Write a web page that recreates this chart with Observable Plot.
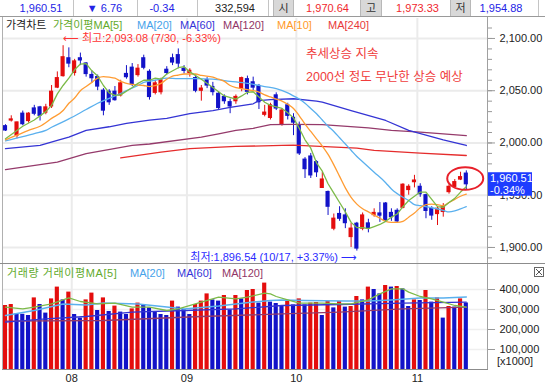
<!DOCTYPE html>
<html><head><meta charset="utf-8">
<script src="https://cdn.jsdelivr.net/npm/d3@7"></script>
<script src="https://cdn.jsdelivr.net/npm/@observablehq/plot@0.6"></script>
<style>
html,body{margin:0;padding:0;background:#fff;}
#wrap{position:relative;width:545px;height:387px;overflow:hidden;background:#fff;font-family:"Liberation Sans","Noto Sans CJK KR","DejaVu Sans",sans-serif;font-size:11px;}
.abs{position:absolute;white-space:nowrap;line-height:1;}
.ln{position:absolute;background:#a8a8a8;}
.plot{position:absolute;left:0;}
</style></head>
<body><div id="wrap"></div>
<script>
// ---------------- DATA ----------------
const openP = [2016,2021.5,2007,2028,2021,2033,2034,2029,2035,2053,
2064,2081,2067,2081,2076,2065,2063,2050,2049,2049,
2045.5,2066,2072,2065,2081,2068,2048,2048.6,2070,2081,
2084,2071,2067,2062,2050,2060,2053.5,2047,2044,2039,
2040,2052,2061,2058,2054.5,2027,2024,2045.5,2018,2036,
2024,2017,1984,1987,1981.6,1957,1953,1918,1932,1930.6,
1910,1922.7,1918,1923,1931,1932.5,1942,1933,1935,1938,
1955,1962.5,1958,1950,1937,1932,1934,1953,1958,1965,
1970.64];
const highP = [2017.5,2026,2020,2030.5,2029,2036,2035,2037,2055,2068,
2093.08,2091,2080,2086,2077,2069,2065,2052,2051,2054,
2060,2074,2076,2075,2084,2070,2060,2062,2073,2085,
2090,2074,2071,2065,2055,2062.5,2058,2049,2046,2042,
2046,2063,2064,2063,2056,2036,2038,2048,2033,2038,
2028,2020,1986,1990,1983,1972,1954,1932,1939,1937,
1923,1924,1933,1927,1937,1943,1943,1937,1937,1961,
1960,1969,1961,1951,1939,1939,1942,1960,1965,1972,
1973.33];
const lowP = [2011,2020,2004,2016.5,2019,2026,2021,2027,2033,2052,
2063,2072,2064,2074,2063,2057,2050,2026,2036,2040,
2044,2061,2054,2063,2070,2041,2046,2046,2065,2074,
2071,2066,2063,2048,2040,2052,2045,2032,2037,2028,
2037,2049,2046,2050,2032,2025,2022,2031,2016,2022,
2007,1988,1966,1966,1967,1957,1930.6,1916,1925,1918,
1900,1896.54,1916,1914,1929,1924,1924,1925,1923,1937,
1950,1957,1948,1927.5,1926,1921,1929,1951,1957,1964,
1954.88];
const closeP = [2012,2022.5,2019.6,2018,2028,2028,2026,2034,2049,2062,
2082,2076,2078,2079,2066,2062,2054,2031,2039,2041,
2057,2063,2056,2071,2072,2044,2057,2060,2067,2077,
2076,2069,2069,2050,2052,2055,2048.7,2033.5,2040,2035,
2044,2062,2049,2053,2039,2029,2036,2033,2031,2026,
2019.5,1990,1975,1969,1972,1965,1939,1927.5,1927.5,1923.3,
1918,1899,1930.6,1918,1933,1930.5,1926,1929,1925,1960,
1958,1964,1951,1935,1930.6,1937,1938.6,1958,1962.5,1967.27,
1960.51];
// volume, thousands of shares
const volume = [320,325,278,276,270,358,325,282,353,412,
348,387,275,257,348,382,295,358,290,317,
287,275,303,332,325,308,287,275,270,342,
312,300,275,325,342,378,348,342,370,298,
370,353,395,400,332,432,337,330,318,340,
323,353,323,332,335,270,340,308,340,312,
315,365,348,412,400,378,420,412,415,403,
315,348,345,395,337,358,257,315,312,353,
332.594];
// price moving averages: [candle index, value]
const ma5 = [[0,2004],[3,2016],[5,2022],[7,2030],[8,2036],[9,2047],[10,2055],[11,2062],[12,2070],[13,2075.5],[14,2076],[15,2069],[16,2064],[17,2055],[18,2048],[19,2045.5],[20,2046],[22,2053],[23,2057],[24,2060],[25,2060],[26,2062],[27,2061],[28,2066],[30,2072],[31,2073],[32,2068],[34,2061],[36,2053],[37,2049],[38,2045],[40,2042],[41,2045],[42,2048.5],[43,2049],[44,2044],[45,2039],[46,2036],[47,2034.5],[48,2033],[49,2029],[50,2024],[51,2014],[52,2003],[53,1995],[54,1981],[55,1973],[56,1961],[57,1952],[58,1943],[59,1934],[60,1924],[61,1919],[62,1919],[63,1918],[64,1920],[65,1922],[66,1925],[67,1929],[68,1932],[69,1939],[70,1945],[71,1949],[72,1953],[73,1953],[74,1946],[75,1939],[76,1938.5],[77,1943],[78,1947],[79,1953],[80,1958]];
const ma10 = [[0,2003],[2,2007.5],[4,2012],[6,2016],[8,2023.5],[10,2031],[11,2038],[12,2043],[13,2050],[14,2054],[15,2058],[16,2062],[17,2063.5],[18,2063],[19,2062],[20,2059],[22,2056],[24,2055],[25,2054],[27,2057],[28,2061],[29,2064],[30,2065],[31,2066],[33,2066],[34,2064.6],[36,2063],[37,2061],[38,2059],[39,2055],[40,2053],[41,2052],[42,2051],[43,2050],[44,2048.7],[45,2046],[46,2044],[47,2042],[48,2040],[49,2037],[50,2033],[51,2026],[52,2018],[53,2011],[54,2004],[55,1997],[56,1989],[57,1979],[58,1968],[59,1957],[60,1948],[61,1941.5],[62,1937],[63,1934],[64,1931],[65,1928],[66,1925],[67,1924],[68,1924],[69,1925],[70,1929],[71,1933],[72,1938],[73,1941],[74,1941.5],[75,1941],[76,1940],[77,1943],[78,1946],[79,1949],[80,1951]];
const ma20 = [[0,2002],[3,2006],[5,2009],[7,2012],[8,2015],[11,2023],[14,2032],[16,2038],[19,2045],[21,2050],[23,2055],[24,2058],[26,2060],[28,2062],[30,2061.5],[33,2061.5],[36,2061],[39,2059],[42,2057],[45,2054],[47,2052],[49,2048],[50,2045],[51,2042],[52,2038],[53,2033],[54,2028],[55,2022],[56,2016],[57,2011],[58,2005],[59,1999],[60,1993],[61,1987],[62,1982],[64,1972],[66,1962],[67,1956],[69,1948],[70,1945],[71,1941],[72,1940],[74,1938],[76,1935.5],[77,1934],[78,1935],[79,1937],[80,1939]];
const ma60 = [[0,1994.5],[6,1997.6],[9,2002.5],[11,2005.5],[14,2012],[18,2015.5],[21,2018.7],[25,2021.8],[28,2023.5],[32,2028],[36,2031],[39,2034],[43,2037.5],[44,2040.5],[46,2041.5],[50,2042.3],[54,2040],[55,2039],[60,2031],[66,2021.5],[70,2012],[76,2003],[80,1997.6]];
const ma120 = [[0,1974.4],[9,1981.6],[14,1989.7],[22,1997.6],[25,1999],[34,2005.5],[37,2008.8],[40,2012],[43,2014],[46,2017.5],[50,2017.7],[55,2017.5],[63,2014.5],[67,2012],[72,2010.3],[80,2007]];
const ma240 = [[20,1985.8],[27,1991.2],[32,1994.5],[40,1996.7],[48,1997.6],[50,1998],[61,1995],[64,1993],[72,1990.3],[80,1988]];
// volume moving averages: [candle index, thousands]
const vma5 = [[0,312],[3,303],[5,312],[8,328],[11,358],[13,340],[16,328],[19,332],[22,312],[25,312],[28,295],[30,303],[34,337],[37,362],[40,353],[42,362],[45,382],[46,378],[47,365],[49,348],[51,332],[55,332],[58,328],[60,328],[63,348],[65,378],[67,403],[69,403],[70,387],[72,365],[74,353],[76,337],[78,320],[80,312]];
const vma20 = [[0,270],[5,295],[10,328],[14,323],[17,332],[23,328],[28,312],[31,303],[37,317],[43,337],[46,345],[48,347],[52,345],[59,342],[63,342],[67,348],[72,357],[76,358],[80,362]];
const vma60 = [[0,237],[7,253],[14,265],[22,287],[31,295],[40,303],[48,320],[58,325],[69,332],[80,337]];
const vma120 = [[0,242],[17,245],[34,265],[48,278],[58,287],[69,303],[80,312]];
// axes
const priceTicks = [1900, 1950, 2000, 2050, 2100];
const priceMinorTicks = [1890,1900,1910,1920,1930,1940,1950,1960,1970,1980,1990,2000,2010,2020,2030,2040,2050,2060,2070,2080,2090,2100,2110];
const volTicks = [100, 200, 300, 400];
const monthPos = [11.5, 31.5, 50.5, 71.5];
const monthLabels = ["08", "09", "10", "11"];
// header / annotations
const headerChange = "▼ 6.76";
const headerPct = "-0.34";
const hiNote = {i: 10, p: 2093.08, t: "⟵ 최고:2,093.08 (7/30, -6.33%)"};
const loNote = {i: 61, p: 1896.54, t: "최저:1,896.54 (10/17, +3.37%) ⟶"};
const noteLines = ["추세상승 지속", "2000선 정도 무난한 상승 예상"];

// ---------------- STYLE ----------------
const FONT = '"Liberation Sans","Noto Sans CJK KR","DejaVu Sans",sans-serif';
const UP = "#e40d0d", DOWN = "#1212c8";
const C5 = "#7cba48", C10 = "#ff9c33", C20 = "#5ab0ee", C60 = "#3434d4", C120 = "#953a6b", C240 = "#e52c2c";
const xDomain = [-0.52, 83.68];
const fmt2 = d3.format(",.2f");

const wrap = document.getElementById("wrap");
const n = closeP.length;
const candles = d3.range(n).map(i => ({i, open: openP[i], high: highP[i], low: lowP[i], close: closeP[i]}));
const cColor = d => d.close >= d.open ? UP : DOWN;
const vols = volume.map((v, i) => ({i, v, up: i === 0 || v > volume[i - 1]}));

const pricePlot = Plot.plot({
  width: 545, height: 246, marginTop: 0, marginBottom: 0, marginLeft: 2, marginRight: 58,
  x: {domain: xDomain, axis: null, label: null},
  y: {domain: [1883.7, 2119.1], label: null},
  style: {fontFamily: FONT, fontSize: "11px", background: "transparent", overflow: "visible"},
  marks: [
    Plot.ruleY(priceTicks, {stroke: "#ebebeb", strokeWidth: 2}),
    Plot.ruleX(monthPos, {stroke: "#ebebeb", strokeWidth: 2}),
    Plot.ruleX(candles, {x: "i", y1: "low", y2: "high", stroke: cColor, strokeWidth: 1}),
    Plot.rect(candles, {x1: d => d.i - 0.36, x2: d => d.i + 0.36, y1: "open", y2: "close", fill: cColor, insetTop: -0.6, insetBottom: -0.6}),
    Plot.line(ma240, {x: d => d[0], y: d => d[1], stroke: C240, strokeWidth: 1.3}),
    Plot.line(ma120, {x: d => d[0], y: d => d[1], stroke: C120, strokeWidth: 1.3}),
    Plot.line(ma60, {x: d => d[0], y: d => d[1], stroke: C60, strokeWidth: 1.3}),
    Plot.line(ma20, {x: d => d[0], y: d => d[1], stroke: C20, strokeWidth: 1.3, curve: "monotone-x"}),
    Plot.line(ma10, {x: d => d[0], y: d => d[1], stroke: C10, strokeWidth: 1.3, curve: "monotone-x"}),
    Plot.line(ma5, {x: d => d[0], y: d => d[1], stroke: C5, strokeWidth: 1.3}),
    Plot.axisY({anchor: "right", label: null, ticks: priceMinorTicks, tickSize: 4, tickFormat: () => "", stroke: "#999"}),
    Plot.axisY({anchor: "right", label: null, ticks: priceTicks, tickSize: 7, tickPadding: 5, tickFormat: fmt2, stroke: "#999", fill: "#222", fontSize: 11}),
    Plot.text([hiNote], {x: "i", y: "p", text: "t", textAnchor: "start", dy: -7, fill: "#ff3434", fontSize: 11}),
    Plot.text([loNote], {x: "i", y: "p", text: "t", textAnchor: "end", dy: 6.5, fill: "#2a2aff", fontSize: 11})
  ]
});
pricePlot.classList.add("plot");
pricePlot.style.top = "18px";
wrap.appendChild(pricePlot);

const volPlot = Plot.plot({
  width: 545, height: 123, marginTop: 0, marginBottom: 18, marginLeft: 2, marginRight: 58,
  x: {domain: xDomain, label: null},
  y: {domain: [0, 525], label: null},
  style: {fontFamily: FONT, fontSize: "11px", background: "transparent", overflow: "visible"},
  marks: [
    Plot.ruleY(volTicks, {stroke: "#efefef", strokeWidth: 1.5}),
    Plot.ruleX(monthPos, {stroke: "#ebebeb", strokeWidth: 2}),
    Plot.rectY(vols, {x1: d => d.i - 0.36, x2: d => d.i + 0.36, y: "v", fill: d => d.up ? UP : DOWN}),
    Plot.line(vma120, {x: d => d[0], y: d => d[1], stroke: C120, strokeWidth: 1.3}),
    Plot.line(vma60, {x: d => d[0], y: d => d[1], stroke: C60, strokeWidth: 1.3}),
    Plot.line(vma20, {x: d => d[0], y: d => d[1], stroke: C20, strokeWidth: 1.5}),
    Plot.line(vma5, {x: d => d[0], y: d => d[1], stroke: C5, strokeWidth: 1.3}),
    Plot.axisY({anchor: "right", label: null, ticks: volTicks, tickSize: 7, tickPadding: 5, tickFormat: d => d3.format(",")(d * 1000), stroke: "#999", fill: "#222", fontSize: 11}),
    Plot.axisX({anchor: "bottom", label: null, ticks: monthPos, tickSize: 0, tickPadding: 5, tickFormat: d => monthLabels[monthPos.indexOf(d)], fill: "#222", fontSize: 11})
  ]
});
volPlot.classList.add("plot");
volPlot.style.top = "264px";
wrap.appendChild(volPlot);

// decorations tied to the price scales
function scaleFn(plot, name) {
  const s = plot.scale(name);
  if (s && typeof s.apply === "function") return v => s.apply(v);
  return d3.scaleLinear(s.domain, s.range);
}
const SX = scaleFn(pricePlot, "x"), SY = scaleFn(pricePlot, "y");
const psvg = d3.select(pricePlot);
psvg.append("ellipse")
  .attr("cx", SX(79.9)).attr("cy", SY(1965.5)).attr("rx", 18).attr("ry", 11.3)
  .attr("fill", "none").attr("stroke", "#e8202a").attr("stroke-width", 2);
const lastY = SY(closeP[n - 1]);
const lab = psvg.append("g").attr("text-anchor", "start");
lab.append("rect").attr("x", 488).attr("y", lastY - 11.5).attr("width", 44).attr("height", 23.5).attr("fill", "#1e3cff");
lab.append("text").attr("x", 490).attr("y", lastY - 5.5).attr("dy", "0.36em").attr("fill", "#fff").attr("text-anchor", "start")
  .attr("font-size", 11).attr("font-family", FONT).text(fmt2(closeP[n - 1]));
lab.append("text").attr("x", 490).attr("y", lastY + 6).attr("dy", "0.36em").attr("fill", "#fff").attr("text-anchor", "start")
  .attr("font-size", 11).attr("font-family", FONT).text(headerPct + "%");

// ---------------- HTML overlays ----------------
function line(x, y, w, h, c) {
  const d = document.createElement("div"); d.className = "ln";
  Object.assign(d.style, {left: x + "px", top: y + "px", width: w + "px", height: h + "px", background: c || "#a8a8a8"});
  wrap.appendChild(d); return d;
}
function text(t, x, yc, color, size, center, extra) {
  size = size || 11;
  const d = document.createElement("div"); d.className = "abs"; d.textContent = t;
  d.style.left = x + "px"; d.style.top = (yc - size * 0.5) + "px";
  d.style.fontSize = size + "px"; d.style.color = color || "#222";
  if (center) d.style.transform = "translateX(-50%)";
  if (extra) Object.assign(d.style, extra);
  wrap.appendChild(d); return d;
}
function box(x, w, label) {
  const d = document.createElement("div");
  Object.assign(d.style, {position: "absolute", left: x + "px", top: "0px", width: w + "px", height: "16px",
    background: "#d8d8d8", borderLeft: "1px solid #b8b8b8", borderRight: "1px solid #b8b8b8", boxSizing: "border-box"});
  wrap.appendChild(d);
  text(label, x + w / 2, 8, "#333", 11, true);
}
// header row
line(0, 16, 545, 1, "#9a9a9a");
[73, 137, 197, 268, 538].forEach(x => line(x, 0, 1, 16, "#c4c4c4"));
text(fmt2(closeP[n - 1]), 41, 8, "#2323e6", 11, true);
text(headerChange, 104.5, 8, "#2323e6", 11, true);
text(headerPct, 162, 8, "#2323e6", 11, true);
text(d3.format(",")(Math.round(volume[n - 1] * 1000)), 235, 8, "#222", 11, true);
box(273, 21, "시");
text(fmt2(openP[n - 1]), 327.5, 8, "#f0282e", 11, true);
box(360, 22, "고");
text(fmt2(highP[n - 1]), 417.5, 8, "#f0282e", 11, true);
box(450, 21, "저");
text(fmt2(lowP[n - 1]), 501, 8, "#2323e6", 11, true);

// frame lines
line(2, 17, 1, 353, "#b0b0b0");
line(487, 17, 1, 353, "#a0a0a0");
line(0, 263, 545, 1, "#8c8c8c");
line(2, 369, 486, 1, "#8c8c8c");

// price legend
[["가격차트", 6, "#1a1a1a"], ["가격이평MA[5]", 53, "#62aa2c"], ["MA[20]", 137, "#46a2ea"], ["MA[60]", 180, "#3535d8"],
 ["MA[120]", 223, "#913566"], ["MA[10]", 277, "#ff9a2a"], ["MA[240]", 328, "#e83a3a"]]
  .forEach(([t, x, c]) => text(t, x, 25.5, c, 11));
// volume legend
[["거래량 거래이평MA[5]", 7, "#62aa2c"], ["MA[20]", 130, "#46a2ea"], ["MA[60]", 177, "#3535d8"], ["MA[120]", 222, "#913566"]]
  .forEach(([t, x, c]) => text(t, x, 273, c, 11, false, t.startsWith("거래량") ? {letterSpacing: "0.6px"} : null));
// notes
text(noteLines[0], 306, 54, "#f03c3c", 12.5);
text(noteLines[1], 306, 77, "#f03c3c", 12.5);
// unit
text("[x1000]", 497, 361, "#222", 11);
// close box icon
const ic = document.createElement("div");
Object.assign(ic.style, {position: "absolute", left: "534px", top: "267px"});
ic.innerHTML = '<svg width="10" height="10"><rect x="0.5" y="0.5" width="9" height="9" fill="#fff" stroke="#666"/><path d="M2 2L8 8M8 2L2 8" stroke="#555"/></svg>';
wrap.appendChild(ic);
</script></body></html>
